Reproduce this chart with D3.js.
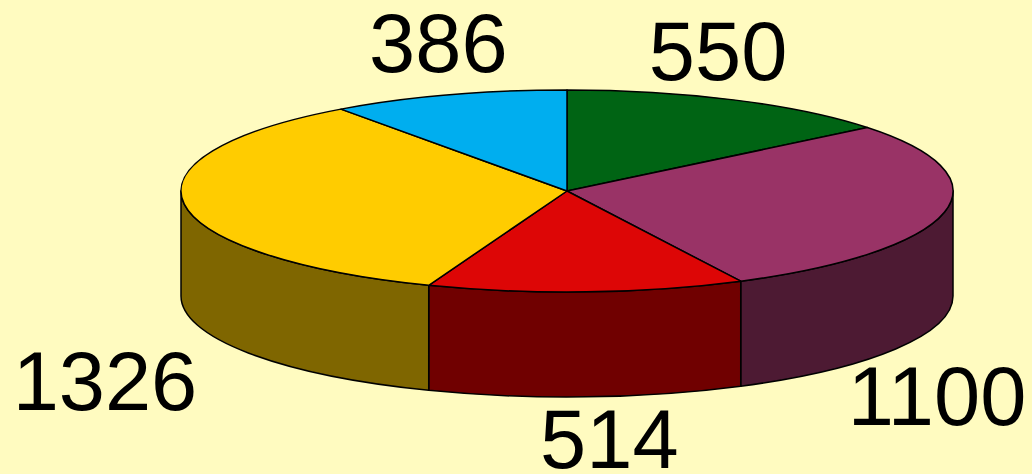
<!DOCTYPE html>
<html>
<head>
<meta charset="utf-8">
<script src="https://cdn.jsdelivr.net/npm/d3@7"></script>
<style>
  html, body { margin: 0; padding: 0; background: #FFFBC0; }
  svg { display: block; }
</style>
</head>
<body>
<div id="chart"></div>
<script>
// slices, clockwise from 12 o'clock
const labels = ["550", "1100", "514", "1326", "386"];
const values = [550, 1100, 514, 1326, 386];
const topColors = ["#006414", "#993366", "#DD0606", "#FFCC00", "#00AEEF"];
const sideColors = ["#003A0C", "#4D1A33", "#700000", "#7F6600", "#00587A"];

const width = 1032, height = 474;
const cx = 567, cy = 191, rx = 386, ry = 101, depth = 105;

// label nudges relative to the outer label ellipse
const labelNudge = [[-32, 0], [-45, 66], [21, -14], [-41, 64], [2, 0]];

const svg = d3.select("#chart").append("svg")
    .attr("width", width)
    .attr("height", height);

const x = d3.scaleLinear().domain([-1, 1]).range([cx - rx, cx + rx]);
const y = d3.scaleLinear().domain([-1, 1]).range([cy - ry, cy + ry]);

const pie = d3.pie().sort(null).startAngle(0).endAngle(2 * Math.PI);
const slices = pie(values);

function pt(a, dy = 0) {
    return [x(Math.sin(a)), y(-Math.cos(a)) + dy];
}

function topPath(d) {
    const p0 = pt(d.startAngle), p1 = pt(d.endAngle);
    const large = d.endAngle - d.startAngle > Math.PI ? 1 : 0;
    return `M${cx},${cy}L${p0[0]},${p0[1]}A${rx},${ry} 0 ${large} 1 ${p1[0]},${p1[1]}Z`;
}

function sidePath(d) {
    const s = Math.max(d.startAngle, Math.PI / 2);
    const e = Math.min(d.endAngle, 3 * Math.PI / 2);
    if (e <= s) return null;
    const t0 = pt(s), t1 = pt(e), b0 = pt(s, depth), b1 = pt(e, depth);
    return `M${t0[0]},${t0[1]}A${rx},${ry} 0 0 1 ${t1[0]},${t1[1]}` +
        `L${b1[0]},${b1[1]}A${rx},${ry} 0 0 0 ${b0[0]},${b0[1]}Z`;
}

// sides
svg.append("g").selectAll("path")
    .data(slices.filter(d => sidePath(d)))
    .enter().append("path")
    .attr("d", sidePath)
    .attr("fill", d => sideColors[d.index])
    .attr("stroke", "#000")
    .attr("stroke-width", 1.5)
    .attr("stroke-linejoin", "round");

// tops
svg.append("g").selectAll("path")
    .data(slices)
    .enter().append("path")
    .attr("d", topPath)
    .attr("fill", d => topColors[d.index])
    .attr("stroke", "#000")
    .attr("stroke-width", 1.5)
    .attr("stroke-linejoin", "round");

// labels
svg.append("g").selectAll("text")
    .data(slices)
    .enter().append("text")
    .attr("x", d => {
        const m = (d.startAngle + d.endAngle) / 2;
        return cx + 1.1 * rx * Math.sin(m) + labelNudge[d.index][0];
    })
    .attr("y", d => {
        const m = (d.startAngle + d.endAngle) / 2;
        const c = Math.cos(m);
        return cy - 1.55 * ry * c + (c < 0 ? depth : 0) + labelNudge[d.index][1];
    })
    .attr("dy", "0.36em")
    .attr("text-anchor", "middle")
    .attr("font-family", "'Liberation Sans', Arial, Helvetica, sans-serif")
    .attr("font-size", "83px")
    .attr("fill", "#000")
    .text(d => labels[d.index]);
</script>
</body>
</html>
